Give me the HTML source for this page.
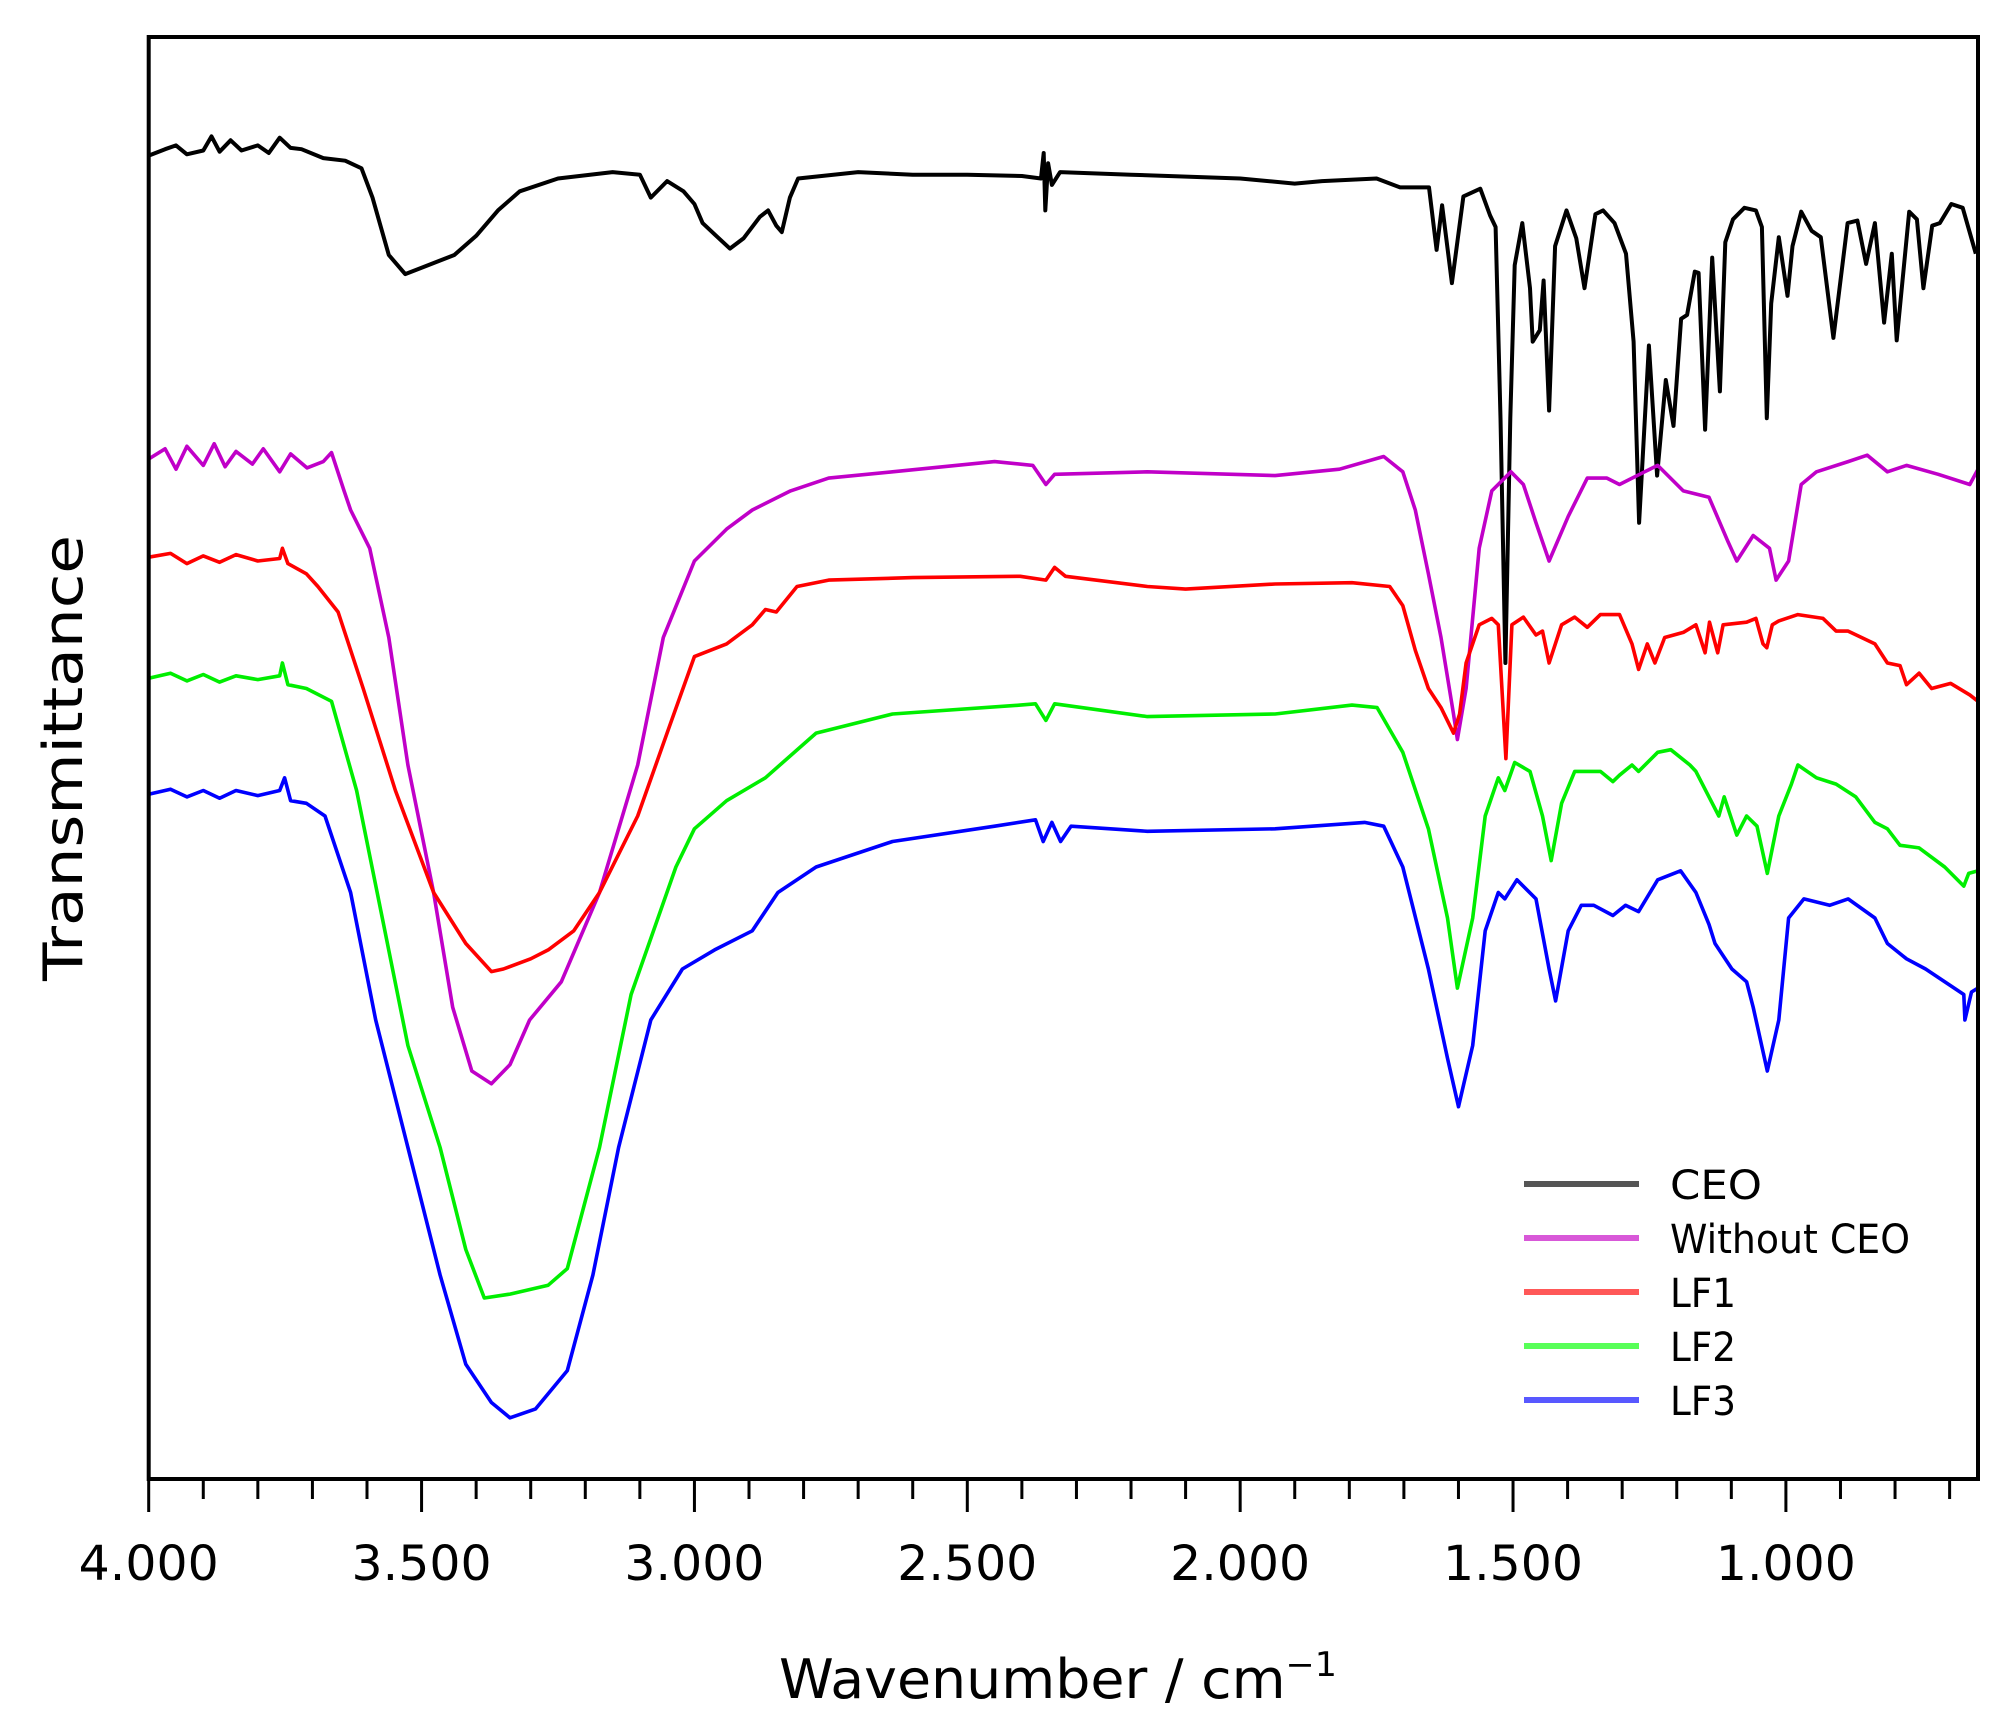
<!DOCTYPE html>
<html><head><meta charset="utf-8"><style>
html,body{margin:0;padding:0;background:#fff;}
svg{display:block;}
text{font-family:"DejaVu Sans","Liberation Sans",sans-serif;fill:#000;}
</style></head><body>
<svg id="chart" width="1999" height="1728" viewBox="0 0 1999 1728" xmlns="http://www.w3.org/2000/svg">
<g id="series"></g>
<rect x="148.7" y="37" width="1829.3" height="1442" fill="none" stroke="#000" stroke-width="4"/>
<g id="ticks"></g>
<text x="1058" y="1698" font-size="54" text-anchor="middle" textLength="558" lengthAdjust="spacingAndGlyphs">Wavenumber / cm<tspan dy="-22" font-size="34">−1</tspan></text>
<text transform="translate(82,758) rotate(-90)" font-size="54" text-anchor="middle" textLength="446" lengthAdjust="spacingAndGlyphs">Transmittance</text>
<g id="legend"></g>
</svg>
<script>
const xTicks=[4000,3900,3800,3700,3600,3500,3400,3300,3200,3100,3000,2900,2800,2700,2600,2500,2400,2300,2200,2100,2000,1900,1800,1700,1600,1500,1400,1300,1200,1100,1000,900,800,700];
const xLabels=[4000,3500,3000,2500,2000,1500,1000];
const seriesNames=["CEO","Without CEO","LF1","LF2","LF3"];
const ceo=[[4000,103.8],[3970,104.3],[3950,104.6],[3930,103.9],[3900,104.2],[3885,105.3],[3870,104.1],[3850,105],[3830,104.2],[3800,104.6],[3780,104],[3760,105.2],[3740,104.4],[3720,104.3],[3680,103.6],[3640,103.4],[3610,102.8],[3590,100.5],[3560,96],[3530,94.5],[3500,95],[3470,95.5],[3440,96],[3400,97.5],[3360,99.5],[3320,101],[3250,102],[3150,102.5],[3100,102.3],[3080,100.5],[3050,101.8],[3020,101],[3000,100],[2985,98.5],[2960,97.5],[2935,96.5],[2910,97.3],[2880,99],[2865,99.5],[2850,98.3],[2840,97.8],[2825,100.5],[2810,102],[2700,102.5],[2600,102.3],[2500,102.3],[2400,102.2],[2365,102],[2360,104],[2357,99.5],[2352,103.2],[2345,101.5],[2330,102.5],[2200,102.3],[2000,102],[1900,101.6],[1850,101.8],[1750,102],[1707,101.3],[1654,101.3],[1640,96.4],[1630,99.9],[1612,93.8],[1591,100.6],[1560,101.2],[1542,99.1],[1532,98.2],[1523,83.2],[1514,64],[1505,83.2],[1497,95.2],[1483,98.5],[1469,93.4],[1464,89.2],[1451,90.1],[1444,94],[1434,83.8],[1423,96.7],[1402,99.5],[1384,97.3],[1369,93.4],[1349,99.2],[1335,99.5],[1314,98.5],[1293,96.1],[1279,89.2],[1269,75],[1251,88.9],[1236,78.7],[1220,86.2],[1206,82.6],[1192,91],[1181,91.3],[1167,94.7],[1160,94.6],[1148,82.3],[1135,95.8],[1121,85.3],[1111,97],[1097,98.8],[1076,99.7],[1055,99.5],[1044,98.2],[1035,83.2],[1027,92.2],[1013,97.4],[997,92.8],[988,96.7],[972,99.4],[953,97.9],[936,97.4],[913,89.5],[887,98.5],[869,98.7],[853,95.3],[837,98.5],[820,90.7],[806,96.1],[797,89.3],[774,99.4],[760,98.8],[748,93.4],[732,98.3],[718,98.5],[697,100],[676,99.7],[652,96.1]];
const withoutCeo=[[4000,80],[3970,80.8],[3950,79.2],[3930,81],[3900,79.5],[3880,81.2],[3860,79.4],[3840,80.6],[3810,79.6],[3790,80.8],[3760,79],[3740,80.4],[3710,79.3],[3680,79.8],[3665,80.5],[3642,77.5],[3630,76],[3595,73],[3560,66],[3525,56],[3478,46],[3443,37],[3408,32],[3372,31],[3338,32.5],[3302,36],[3244,39],[3174,46],[3104,56],[3057,66],[3000,72],[2941,74.5],[2894,76],[2824,77.5],[2754,78.5],[2637,79],[2450,79.8],[2380,79.5],[2356,78],[2340,78.8],[2170,79],[1936,78.7],[1818,79.2],[1737,80.2],[1702,79],[1679,76],[1655,71],[1632,66],[1609,60],[1602,58],[1586,62],[1562,73],[1539,77.5],[1504,79],[1481,78],[1458,75],[1434,72],[1399,75.5],[1364,78.5],[1328,78.5],[1305,78],[1259,79],[1235,79.5],[1188,77.5],[1141,77],[1106,73.5],[1090,72],[1060,74],[1030,73],[1018,70.5],[995,72],[972,78],[944,79],[886,79.8],[851,80.3],[814,79],[779,79.5],[721,78.8],[663,78],[648,79.2]];
const lf1=[[4000,72.3],[3960,72.6],[3930,71.8],[3900,72.4],[3870,71.9],[3840,72.5],[3800,72],[3760,72.2],[3755,73],[3745,71.8],[3711,71],[3690,70],[3653,68],[3607,62],[3548,54],[3478,46],[3419,42],[3372,39.8],[3350,40],[3300,40.8],[3268,41.5],[3221,43],[3174,46],[3104,52],[3046,59],[3000,64.5],[2941,65.5],[2894,67],[2870,68.2],[2850,68],[2812,70],[2754,70.5],[2600,70.7],[2403,70.8],[2356,70.5],[2340,71.5],[2320,70.8],[2170,70],[2100,69.8],[1936,70.2],[1795,70.3],[1726,70],[1702,68.5],[1679,65],[1655,62],[1632,60.5],[1609,58.5],[1598,60],[1586,64],[1562,67],[1539,67.5],[1527,67],[1513,56.5],[1502,67],[1481,67.6],[1458,66.2],[1446,66.5],[1434,64],[1411,67],[1387,67.6],[1364,66.8],[1340,67.8],[1305,67.8],[1282,65.5],[1270,63.5],[1254,65.5],[1240,64],[1222,66],[1188,66.4],[1165,67],[1148,64.8],[1140,67.2],[1125,64.8],[1115,67],[1072,67.2],[1055,67.5],[1042,65.5],[1035,65.2],[1025,67],[1013,67.3],[978,67.8],[932,67.5],[908,66.5],[886,66.5],[837,65.5],[814,64],[791,63.8],[779,62.3],[756,63.2],[733,62],[698,62.4],[663,61.5],[648,61]];
const lf2=[[4000,62.8],[3960,63.2],[3930,62.6],[3900,63.1],[3870,62.5],[3840,63],[3800,62.7],[3760,63],[3755,64],[3745,62.3],[3711,62],[3665,61],[3619,54],[3572,44],[3525,34],[3466,26],[3419,18],[3385,14.2],[3338,14.5],[3268,15.2],[3233,16.5],[3174,26],[3116,38],[3034,48],[3000,51],[2941,53.2],[2870,55],[2777,58.5],[2637,60],[2403,60.7],[2375,60.8],[2356,59.5],[2340,60.8],[2170,59.8],[1936,60],[1795,60.7],[1749,60.5],[1702,57],[1655,51],[1620,44],[1602,38.5],[1574,44],[1551,52],[1527,55],[1515,54],[1497,56.2],[1469,55.5],[1446,52],[1430,48.5],[1411,53],[1387,55.5],[1340,55.5],[1317,54.7],[1305,55.2],[1282,56],[1270,55.5],[1235,57],[1211,57.2],[1176,56],[1165,55.5],[1141,53.5],[1123,52],[1113,53.5],[1090,50.5],[1072,52],[1053,51.2],[1034,47.5],[1013,52],[990,54.5],[978,56],[944,55],[908,54.5],[872,53.5],[837,51.5],[814,51],[791,49.7],[756,49.5],[709,48],[674,46.5],[665,47.5],[648,47.7]];
const lf3=[[4000,53.7],[3960,54.1],[3930,53.5],[3900,54],[3870,53.4],[3840,54],[3800,53.6],[3760,54],[3751,55],[3740,53.2],[3711,53],[3677,52],[3630,46],[3584,36],[3525,26],[3466,16],[3419,9],[3372,6],[3338,4.8],[3291,5.5],[3233,8.5],[3186,16],[3139,26],[3080,36],[3022,40],[2963,41.5],[2894,43],[2847,46],[2777,48],[2637,50],[2450,51.2],[2375,51.7],[2361,50],[2345,51.5],[2329,50],[2310,51.2],[2170,50.8],[1936,51],[1772,51.5],[1737,51.2],[1702,48],[1655,40],[1620,33],[1600,29.2],[1574,34],[1551,43],[1527,46],[1515,45.5],[1493,47],[1458,45.5],[1434,40],[1422,37.5],[1399,43],[1375,45],[1352,45],[1317,44.2],[1294,45],[1270,44.5],[1235,47],[1193,47.7],[1165,46],[1141,43.5],[1130,42],[1099,40],[1072,39],[1060,37],[1034,32],[1013,36],[995,44],[967,45.5],[920,45],[886,45.5],[837,44],[814,42],[779,40.8],[744,40],[709,39],[674,38],[672,36],[660,38.2],[648,38.5]];
const seriesData=[ceo,withoutCeo,lf1,lf2,lf3];
const seriesColors=["#000000","#c000c8","#ff0000","#00ee00","#0000ff"];
const legendColors=["#555555","#d858d8","#ff5858","#58ff58","#5858ff"];

const X0=148.7,X1=1978,Y0=1479,Y1=37;
const W0=4000,W1=648,T0=0,T1=113.1;
function xs(w){return X0+(W0-w)/(W0-W1)*(X1-X0);}
function ys(t){return Y0-(t-T0)/(T1-T0)*(Y0-Y1);}
const NS="http://www.w3.org/2000/svg";
const gS=document.getElementById('series');
seriesData.forEach((d,i)=>{
  const p=document.createElementNS(NS,'path');
  p.setAttribute('d',d.map((pt,j)=>(j?'L':'M')+xs(pt[0]).toFixed(1)+' '+ys(pt[1]).toFixed(1)).join(''));
  p.setAttribute('fill','none');p.setAttribute('stroke',seriesColors[i]);
  p.setAttribute('stroke-width',i===0?'4':'3.6');p.setAttribute('stroke-linejoin','round');
  
  
  gS.appendChild(p);
});
const gT=document.getElementById('ticks');
xTicks.forEach(w=>{
  const major=xLabels.includes(w);
  const l=document.createElementNS(NS,'line');
  const x=xs(w);
  l.setAttribute('x1',x);l.setAttribute('x2',x);l.setAttribute('y1',Y0);l.setAttribute('y2',Y0+(major?33:20));
  l.setAttribute('stroke','#000');l.setAttribute('stroke-width','3');
  
  
  gT.appendChild(l);
  if(major){
    const t=document.createElementNS(NS,'text');
    t.setAttribute('x',x);t.setAttribute('y',1580);t.setAttribute('font-size','48');
    t.setAttribute('text-anchor','middle');t.setAttribute('textLength','140');t.setAttribute('lengthAdjust','spacingAndGlyphs');
    t.textContent=String(w).replace(/(\d)(\d{3})$/,'$1.$2');
    
    
    gT.appendChild(t);
  }
});
const gL=document.getElementById('legend');
const legW=[92,240,66,66,66];
seriesNames.forEach((n,i)=>{
  const y=1184+i*54;
  const l=document.createElementNS(NS,'line');
  l.setAttribute('x1',1524);l.setAttribute('x2',1639);l.setAttribute('y1',y);l.setAttribute('y2',y);
  l.setAttribute('stroke',legendColors[i]);l.setAttribute('stroke-width','6');
  
  
  gL.appendChild(l);
  const t=document.createElementNS(NS,'text');
  t.setAttribute('x',1670);t.setAttribute('y',y+15);t.setAttribute('font-size','40');
  t.setAttribute('textLength',legW[i]);t.setAttribute('lengthAdjust','spacingAndGlyphs');
  t.textContent=n;
  
  
  gL.appendChild(t);
});
</script>
</body></html>
